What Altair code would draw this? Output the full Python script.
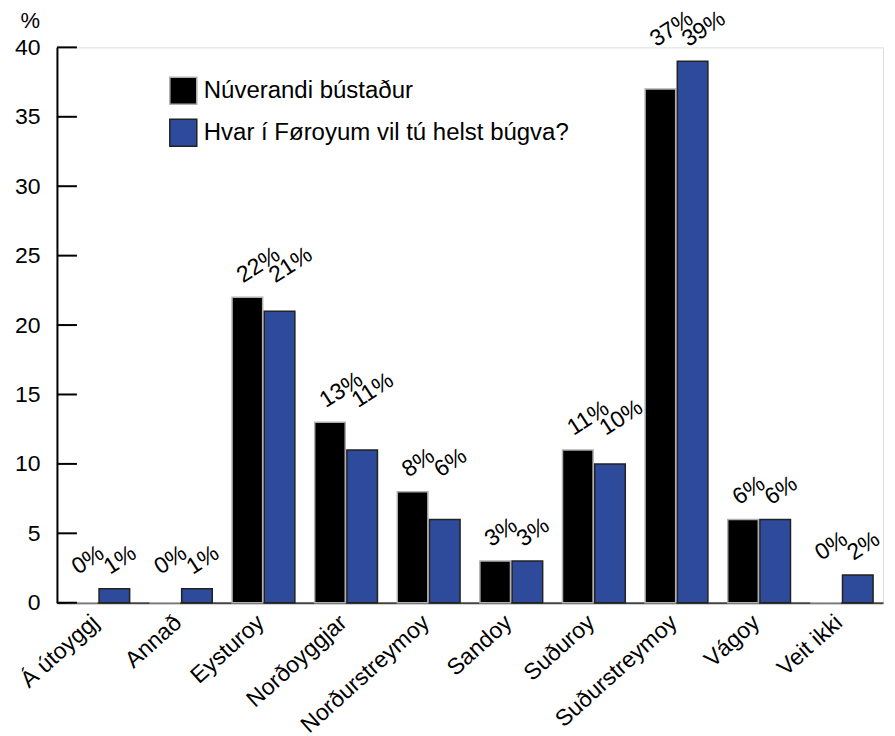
import altair as alt
import pandas as pd

categories = ["Á útoyggj", "Annað", "Eysturoy", "Norðoyggjar", "Norðurstreymoy",
              "Sandoy", "Suðuroy", "Suðurstreymoy", "Vágoy", "Veit ikki"]
series_names = ["Núverandi bústaður", "Hvar í Føroyum vil tú helst búgva?"]
current_vals = [0, 0, 22, 13, 8, 3, 11, 37, 6, 0]
wish_vals = [1, 1, 21, 11, 6, 3, 10, 39, 6, 2]
y_ticks = [0, 5, 10, 15, 20, 25, 30, 35, 40]

rows = []
for c, a, b in zip(categories, current_vals, wish_vals):
    rows.append({"cat": c, "series": series_names[0], "value": a, "label": f"{a}%"})
    rows.append({"cat": c, "series": series_names[1], "value": b, "label": f"{b}%"})
df = pd.DataFrame(rows)
ticks_df = pd.DataFrame({"t": y_ticks})

FONT = "Liberation Sans"

x_enc = alt.X("cat:N", sort=categories,
              scale=alt.Scale(paddingInner=0.24, paddingOuter=0.12),
              axis=alt.Axis(title=None, labelAngle=-42, labelAlign="right", labelBaseline="top",
                            labelFontSize=23, labelFont=FONT, labelColor="#000000",
                            labelPadding=8, labelOffset=-10, ticks=False,
                            domainColor="#444444", domainWidth=2, labelLimit=400))
xoff = alt.XOffset("series:N", sort=series_names, scale=alt.Scale(paddingInner=0.05))
y_scale = alt.Scale(domain=[0, 40], nice=False)

legend_cfg = dict(title=None, orient="none", legendX=112, legendY=29,
                  symbolType="square", symbolSize=729,
                  symbolStrokeWidth=1.5, labelFontSize=24,
                  labelFont=FONT, labelColor="#000000",
                  rowPadding=9, padding=0, labelOffset=6,
                  labelLimit=500)

bars = alt.Chart(df).mark_bar(strokeWidth=1.5).encode(
    x=x_enc,
    xOffset=xoff,
    y=alt.Y("value:Q", scale=y_scale,
            axis=alt.Axis(values=y_ticks, ticks=False, grid=False, title="%",
                          titleAngle=0, titleAlign="left", titleBaseline="alphabetic",
                          titleX=-37, titleY=-20, titleFontSize=22,
                          titleFontWeight="normal", titleFont=FONT, titleColor="#000000",
                          labelFontSize=23, labelFont=FONT, labelColor="#000000",
                          labelPadding=17, domainColor="#000000", domainWidth=2)),
    color=alt.Color("series:N", sort=series_names,
                    scale=alt.Scale(domain=series_names, range=["#000000", "#2E4A9B"]),
                    legend=alt.Legend(**legend_cfg)),
    stroke=alt.Stroke("series:N", sort=series_names,
                      scale=alt.Scale(domain=series_names, range=["#b0b0b0", "#222222"]),
                      legend=alt.Legend(**legend_cfg)),
)

labels = alt.Chart(df).transform_joinaggregate(
    ymax="max(value)", groupby=["cat"]
).mark_text(angle=327, align="left", baseline="alphabetic", dx=4, dy=-14,
            fontSize=23, font=FONT, color="#000000").encode(
    x=alt.X("cat:N", sort=categories),
    xOffset=alt.XOffset("series:N", sort=series_names),
    y=alt.Y("ymax:Q", scale=y_scale),
    text="label:N",
)

tick_rules = alt.Chart(ticks_df).mark_rule(color="#000000", strokeWidth=2).encode(
    y=alt.Y("t:Q", scale=y_scale),
    x=alt.value(0),
    x2=alt.value(20),
)

chart = alt.layer(bars, labels, tick_rules).properties(
    width=827, height=556,
    autosize=alt.AutoSizeParams(type="none"),
    padding={"left": 49, "top": 39, "right": 4, "bottom": 140},
).configure_view(stroke=None).configure(background="white")

chart.save("out.html", embed_options={"renderer": "svg", "actions": False})
